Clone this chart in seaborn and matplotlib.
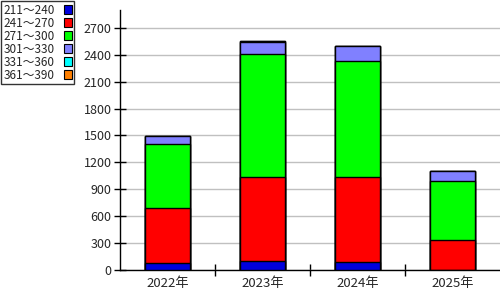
import matplotlib
matplotlib.use("Agg")
import matplotlib.pyplot as plt
import seaborn as sns
import numpy as np
from matplotlib.patches import Patch

years = ["2022年", "2023年", "2024年", "2025年"]
series_names = ["211～240", "241～270", "271～300", "301～330", "331～360", "361～390"]
s211 = [75, 97, 86, 0]
s241 = [615, 938, 949, 331]
s271 = [713, 1375, 1298, 659]
s301 = [87, 135, 164, 111]
s331 = [0, 8, 0, 0]
s361 = [0, 0, 0, 0]
colors = ["#0000dd", "#ff0000", "#00ff00", "#8080ff", "#00ffff", "#ff8000"]
yticks = [0, 300, 600, 900, 1200, 1500, 1800, 2100, 2400, 2700]

sns.set_theme(style="white")
plt.rcParams["font.family"] = ["Noto Sans CJK JP", "DejaVu Sans"]

fig = plt.figure(figsize=(5, 3), dpi=100)
ax = fig.add_axes([0.24, 0.1, 0.76, 0.867])

data = [s211, s241, s271, s301, s331, s361]
cums = np.cumsum(np.array(data, dtype=float), axis=0)
for i in range(len(data) - 1, -1, -1):
    sns.barplot(x=years, y=cums[i], color=colors[i], saturation=1, width=0.48,
                edgecolor="black", linewidth=1, ax=ax, zorder=3)

ax.set_ylim(0, 2900)
ax.set_xlim(-0.5, 3.5)
ax.set_yticks(yticks)
ax.set_yticklabels([str(v) for v in yticks], fontsize=9)
ax.set_xticks([0.5, 1.5, 2.5], minor=False)
ax.set_xticks([0, 1, 2, 3], minor=True)
ax.set_xticklabels([])
ax.set_xticklabels(years, minor=True, fontsize=9.5)
ax.tick_params(axis="x", which="major", direction="inout", length=8, width=1, color="black", bottom=True)
ax.tick_params(axis="x", which="minor", length=0, bottom=True, pad=5)
ax.tick_params(axis="y", direction="inout", length=8, width=1, color="black", left=True, pad=2)
ax.yaxis.grid(True, color="#c0c0c0", linewidth=1)
ax.set_axisbelow(True)
for s in ["top", "right"]:
    ax.spines[s].set_visible(False)
for s in ["left", "bottom"]:
    ax.spines[s].set_color("black")
    ax.spines[s].set_linewidth(1)
ax.set_xlabel("")
ax.set_ylabel("")

handles = [Patch(facecolor=c, edgecolor="black", linewidth=0.8) for c in colors]
leg = fig.legend(handles, series_names, loc="upper left", bbox_to_anchor=(0.0, 1.0),
                 fontsize=8.5, markerfirst=False, frameon=True, fancybox=False,
                 edgecolor="black", handlelength=0.65, handleheight=0.8,
                 handletextpad=0.8, labelspacing=0.0, borderpad=0.2,
                 borderaxespad=0.1)
leg.get_frame().set_linewidth(1)

fig.savefig("out.png", dpi=100)
